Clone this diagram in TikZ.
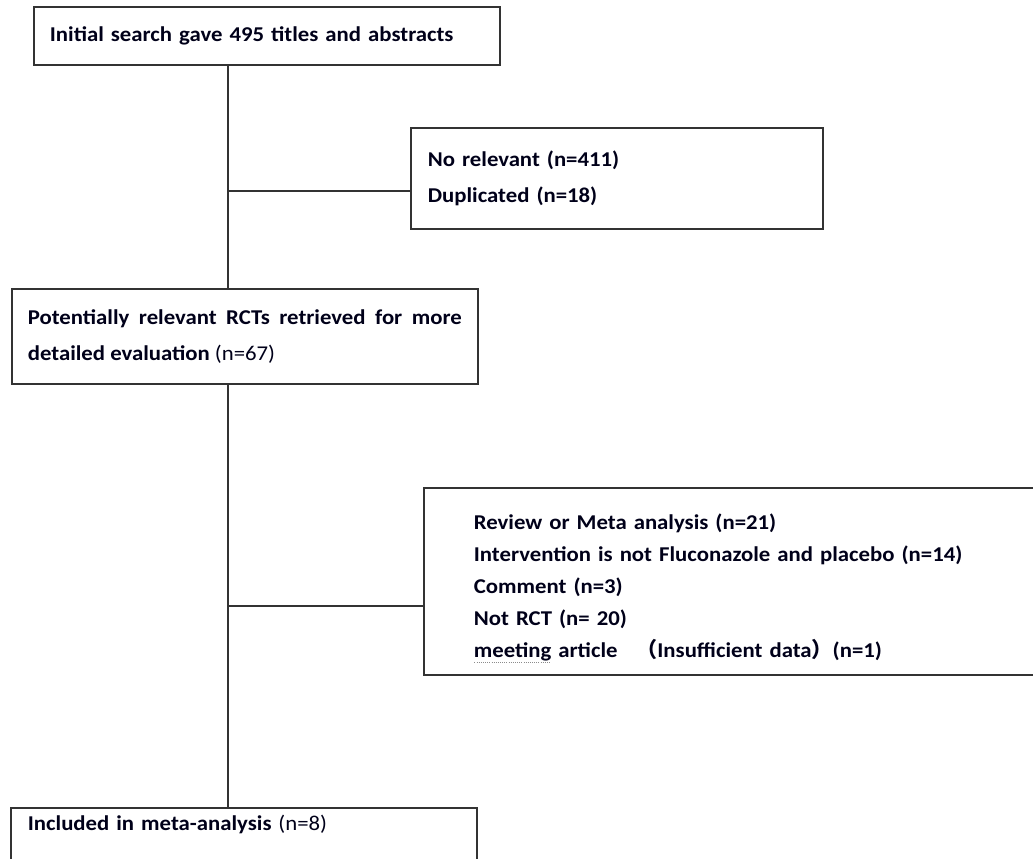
\documentclass[tikz,border=0pt]{standalone}
\usepackage{fontspec}
\setmainfont{Carlito}[FakeStretch=1.08]
\newfontfamily\cjkfont{Noto Sans CJK SC}
\newcommand{\px}{0.75pt}
% dotted spell-check mark under a word
\newcommand{\spellmark}[1]{\leavevmode\setbox0\hbox{#1}%
	\rlap{\raisebox{-0.5ex}{\color{black!45}\hbox to \wd0{\leaders\hbox to 1.6pt{\hss\rule{0.7pt}{0.5pt}\hss}\hfill}}}\box0\relax}
\tikzset{
	flowbox/.style={draw=black!80, line width=1.3pt, anchor=north west, align=left,
		inner ysep=0pt, text=black!90!blue, font=\bfseries\fontsize{15.8}{27}\selectfont},
	flowline/.style={draw=black!80, line width=1.3pt}
}
\begin{document}
\begin{tikzpicture}[x=0.75pt, y=-0.75pt]
		\useasboundingbox (0,0) rectangle (1033,858);
		\clip (0,0) rectangle (1033,858);
		%boxes of the flow chart
		\node[flowbox, minimum width=466*\px, minimum height=58*\px, inner xsep=16*\px,
			text width=434*\px] (search) at (33,6) {Initial search gave 495 titles and abstracts};
		\node[flowbox, minimum width=412*\px, minimum height=101*\px, inner xsep=17*\px,
			text width=378*\px] (norel) at (410,127) {No relevant (n=411)\\Duplicated (n=18)};
		\node[flowbox, minimum width=466*\px, minimum height=95*\px, inner xsep=16*\px,
			text width=434*\px, align=justify] (retrieved) at (11,288)
			{Potentially relevant RCTs retrieved for more detailed evaluation {\mdseries(n=67)}};
		\node[flowbox, minimum width=700*\px, minimum height=187*\px, inner xsep=50*\px,
			text width=600*\px, font=\bfseries\fontsize{15.8}{24}\selectfont] (excluded) at (423,487)
			{\rule{0pt}{22pt}Review or Meta analysis (n=21)\\
			Intervention is not Fluconazole and placebo (n=14)\\
			Comment (n=3)\\
			Not RCT (n= 20)\\
			\spellmark{meeting} article\hspace{14pt}{\cjkfont （}Insufficient data{\cjkfont ）}(n=1)};
		\node[flowbox, minimum width=466*\px, inner xsep=17*\px, text width=432*\px,
			text height=19*\px, text depth=70*\px, inner ysep=4*\px] (included) at (10,807)
			{Included in meta-analysis {\mdseries(n=8)}};
		%trunk and side branches
		\coordinate (trunk) at (228,0);
		\coordinate (j1) at (228,191);
		\coordinate (j2) at (228,606);
		\draw[flowline] (search.south -| trunk) -- (retrieved.north -| trunk);
		\draw[flowline] (retrieved.south -| trunk) -- (included.north -| trunk);
		\draw[flowline] (j1) -- (norel.west |- j1);
		\draw[flowline] (j2) -- (excluded.west |- j2);
	\end{tikzpicture}
\end{document}
